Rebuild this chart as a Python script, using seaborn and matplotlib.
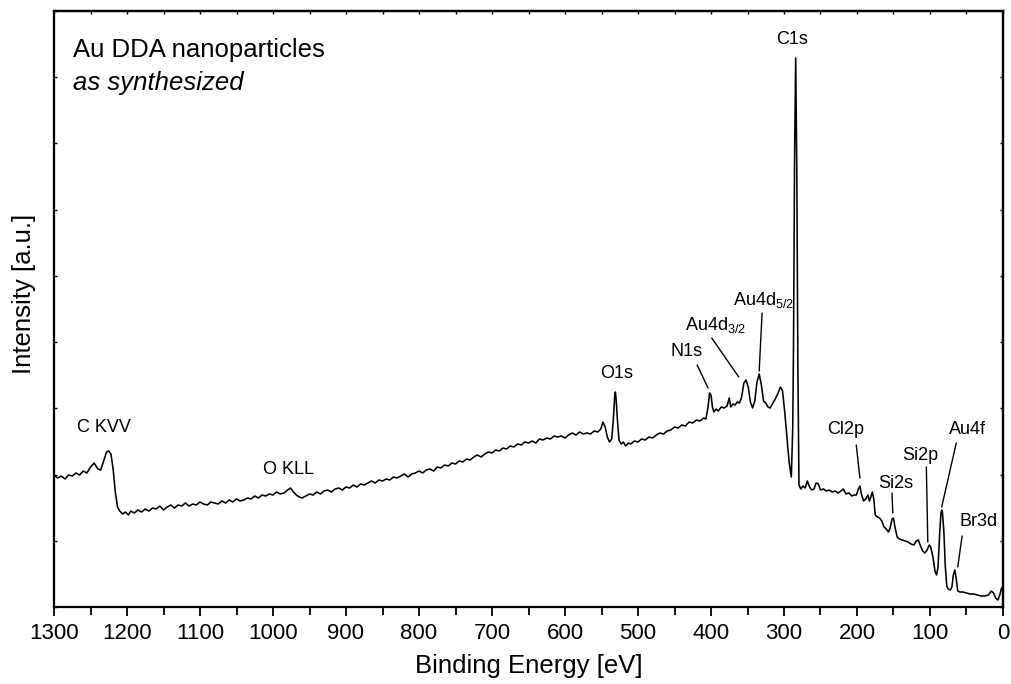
import numpy as np
import pandas as pd
import matplotlib
matplotlib.use("Agg")
import matplotlib.pyplot as plt
from matplotlib.ticker import MultipleLocator, NullFormatter
import seaborn as sns

# ---- spectrum (binding energy in eV, intensity in a.u.) ----
energy = [
    1300, 1295, 1290, 1285, 1280, 1275, 1270, 1265, 1260, 1255, 1250, 1245, 1240, 1236, 1232,
    1228, 1225, 1222, 1219, 1216, 1213, 1210, 1206, 1202, 1198,
    1195, 1190, 1185, 1180, 1175, 1170, 1165, 1160, 1155, 1150, 1145, 1140, 1135, 1130, 1125,
    1120, 1115, 1110, 1105, 1100, 1095, 1090, 1085, 1080, 1075, 1070, 1065, 1060, 1055, 1050,
    1045, 1040, 1035, 1030, 1025, 1020, 1015, 1010, 1005, 1000, 995, 990, 985, 980, 976,
    972, 968, 964, 960, 955, 950, 945, 940, 935, 930, 925, 920, 915, 910, 905,
    900, 895, 890, 885, 880, 875, 870, 865, 860, 855, 850, 845, 840, 835, 830,
    825, 820, 815, 810, 805, 800, 795, 790, 785, 780, 775, 770, 765, 760, 755,
    750, 745, 740, 735, 730, 725, 720, 715, 710, 705, 700, 695, 690, 685, 680,
    675, 670, 665, 660, 655, 650, 645, 640, 635, 630, 625, 620, 615, 610, 605,
    600, 595, 590, 585, 580, 575, 570, 565, 560, 555, 551, 548, 545, 542, 539,
    536, 534, 532, 531, 530, 528, 526, 523, 520, 517, 513, 510, 505, 500, 495,
    490, 485, 480, 475, 470, 465, 460, 455, 450, 445, 440, 435, 430, 425, 420,
    415, 410, 407, 404, 402, 400, 398, 396, 393, 390, 386, 382, 378, 375, 373,
    370, 367, 364, 361, 358, 355, 352, 349, 346, 343, 340, 337, 334, 331, 328,
    325, 322, 319, 316, 312, 308, 305, 302, 299, 296, 293, 290, 288, 287, 285.5,
    284, 282.5, 281, 279.5, 277, 274, 271, 268, 265, 262, 259, 256, 253, 250, 246,
    242, 238, 234, 230, 226, 222, 219, 215, 211, 207, 204, 201, 198, 196, 194,
    191, 188, 185, 183, 181, 179, 177, 175, 172, 169, 166, 163, 160, 157, 155,
    152, 150, 148, 145, 142, 138, 134, 130, 126, 122, 119, 116, 113, 110, 107,
    104, 101, 99, 96, 93, 91, 89, 87, 85, 84, 83, 81, 79, 77, 75,
    72, 70, 68, 66, 64, 62, 59, 55, 50, 45, 40, 35, 30, 25, 20,
    16, 13, 10, 7, 4, 2, 0,
]
intensity = [
    132, 129, 131, 128, 132, 131, 134, 132, 136, 134, 140, 144, 138, 137, 146,
    155, 156, 153, 138, 115, 100, 96, 93, 95, 92,
    96, 94, 97, 95, 98, 96, 99, 98, 101, 97, 100, 102, 99, 102, 101,
    104, 101, 103, 102, 105, 103, 102, 105, 104, 103, 106, 104, 107, 105, 108,
    106, 107, 109, 108, 111, 109, 112, 111, 113, 112, 115, 113, 114, 117, 119,
    115, 112, 110, 109, 111, 113, 112, 115, 113, 116, 117, 115, 118, 119, 117,
    120, 119, 122, 120, 123, 122, 124, 126, 124, 127, 126, 128, 127, 130, 129,
    131, 133, 130, 133, 134, 136, 134, 137, 138, 136, 140, 139, 142, 141, 144,
    143, 146, 145, 148, 147, 150, 152, 150, 153, 155, 154, 157, 156, 159, 158,
    161, 160, 163, 162, 165, 164, 166, 164, 168, 167, 169, 168, 171, 170, 171,
    169, 172, 174, 172, 175, 173, 174, 173, 176, 175, 178, 185, 180, 170, 165,
    168, 185, 210, 215, 208, 185, 167, 163, 165, 161, 164, 163, 166, 165, 168,
    167, 170, 169, 172, 174, 173, 176, 177, 180, 179, 182, 181, 185, 184, 187,
    186, 189, 188, 200, 214, 212, 200, 195, 198, 196, 200, 199, 201, 209, 200,
    203, 202, 205, 204, 210, 224, 227, 220, 205, 199, 206, 225, 233, 222, 206,
    204, 200, 199, 203, 208, 214, 220, 216, 195, 170, 145, 130, 180, 260, 450,
    549, 440, 240, 122, 118, 121, 119, 126, 120, 117, 118, 124, 123, 117, 118,
    116, 117, 115, 116, 114, 116, 118, 113, 114, 111, 112, 112, 118, 121, 113,
    106, 108, 112, 106, 110, 115, 108, 92, 90, 89, 86, 80, 78, 75, 78,
    88, 89, 80, 70, 68, 67, 66, 65, 63, 62, 66, 67, 61, 56, 54,
    57, 62, 60, 50, 35, 32, 40, 70, 94, 97, 95, 75, 40, 21, 18,
    17, 20, 32, 37, 28, 16, 15, 15, 14, 13, 13, 12, 11, 11, 12,
    16, 14, 9, 7, 13, 19, 16,
]

# ---- axis settings ----
x_ticks = [1300, 1200, 1100, 1000, 900, 800, 700, 600, 500, 400, 300, 200, 100, 0]
y_max = 596

# ---- annotations ----
peak_labels = ["C1s", "C KVV", "O KLL", "O1s", "N1s", "Cl2p", "Si2s", "Si2p", "Au4f", "Br3d"]
peak_label_x = [289, 1231.5, 979, 529, 434, 216, 147, 114, 48, 34]
peak_label_y = [567, 179, 137, 234, 255, 177, 124, 152, 177, 86]

sub_labels = ["Au4d$_{3/2}$", "Au4d$_{5/2}$"]
sub_label_x = [436, 370]
sub_label_y = [282, 307]

pointer_x0 = [419, 399, 330, 201, 152, 105, 64, 56]
pointer_y0 = [242, 269, 294, 162, 114, 140, 164, 71]
pointer_x1 = [404, 362, 334, 196, 151, 103, 84, 62]
pointer_y1 = [219, 230, 236, 129, 94, 65, 100, 40]

sns.set_theme(style="ticks")
plt.rcParams["font.family"] = ["Liberation Sans", "DejaVu Sans"]
plt.rcParams["mathtext.default"] = "regular"
plt.rcParams["text.color"] = "black"
plt.rcParams["axes.labelcolor"] = "black"
plt.rcParams["xtick.color"] = "black"
plt.rcParams["ytick.color"] = "black"
plt.rcParams["axes.edgecolor"] = "black"

df = pd.DataFrame({"Binding Energy": energy, "Intensity": intensity})

fig = plt.figure(figsize=(10.12, 6.84), dpi=100)
ax = fig.add_axes([54 / 1012, 77 / 684, 949 / 1012, 596 / 684])

sns.lineplot(data=df, x="Binding Energy", y="Intensity", ax=ax,
             color="black", linewidth=1.15, sort=False)

ax.set_xlim(1300, 0)
ax.set_ylim(0, y_max)

ax.set_xticks(x_ticks)
ax.set_xticklabels([str(t) for t in x_ticks])
ax.xaxis.set_minor_locator(MultipleLocator(50))
ax.tick_params(axis="x", which="major", direction="out", length=6.5, width=1.3,
               labelsize=16, pad=5, colors="black")
ax.tick_params(axis="x", which="minor", direction="out", length=5.5, width=1.3,
               colors="black")

ax.set_yticks(np.linspace(0, y_max, 10))
ax.yaxis.set_major_formatter(NullFormatter())
ax.tick_params(axis="y", which="major", direction="in", length=2.5, width=1.0,
               left=True, colors="black")

for sp in ax.spines.values():
    sp.set_visible(True)
    sp.set_linewidth(1.6)
    sp.set_color("black")

secx = ax.secondary_xaxis("top")
secx.xaxis.set_major_locator(MultipleLocator(50))
secx.xaxis.set_major_formatter(NullFormatter())
secx.tick_params(direction="in", length=2.5, width=1.0, colors="black")
secx.spines["top"].set_linewidth(1.6)

secy = ax.secondary_yaxis("right")
secy.set_yticks(np.linspace(0, y_max, 10))
secy.yaxis.set_major_formatter(NullFormatter())
secy.tick_params(direction="in", length=2.5, width=1.0, colors="black")
secy.spines["right"].set_linewidth(1.6)

ax.set_xlabel("Binding Energy [eV]", fontsize=18.5, color="black")
ax.set_ylabel("Intensity [a.u.]", fontsize=18.5, color="black")
ax.xaxis.set_label_coords(0.5, -0.079)
ax.yaxis.set_label_coords(-0.019, 0.525)

ax.text(1274, 557, "Au DDA nanoparticles", fontsize=18.5, ha="left", va="center",
        color="black")
ax.text(1274, 524, "as synthesized", fontsize=18.5, style="italic", ha="left",
        va="center", color="black")

for lab, lx, ly in zip(peak_labels, peak_label_x, peak_label_y):
    ax.text(lx, ly, lab, fontsize=13, ha="center", va="center", color="black")
for lab, lx, ly in zip(sub_labels, sub_label_x, sub_label_y):
    ax.text(lx, ly, lab, fontsize=13, ha="left", va="center", color="black")
for x0, y0, x1, y1 in zip(pointer_x0, pointer_y0, pointer_x1, pointer_y1):
    ax.plot([x0, x1], [y0, y1], color="black", linewidth=1.0)

fig.savefig("out.png", dpi=100)
